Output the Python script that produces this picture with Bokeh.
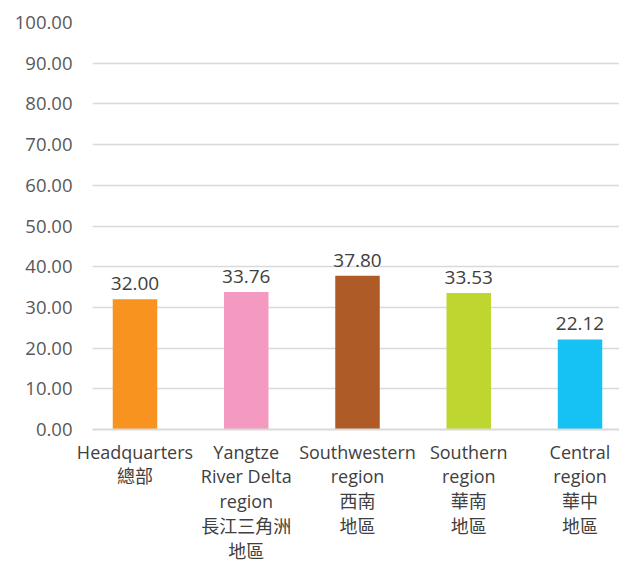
from bokeh.plotting import figure
from bokeh.models import Range1d, FixedTicker, NumeralTickFormatter, ColumnDataSource
from bokeh.core.properties import value
from bokeh.embed import file_html
from bokeh.resources import INLINE

categories = ["Headquarters\n總部",
              "Yangtze\nRiver Delta\nregion\n長江三角洲\n地區",
              "Southwestern\nregion\n西南\n地區",
              "Southern\nregion\n華南\n地區",
              "Central\nregion\n華中\n地區"]
values = [32.00, 33.76, 37.80, 33.53, 22.12]
colors = ["#F7931E", "#F49AC1", "#AE5B27", "#BFD630", "#16C1F3"]
y_ticks = [0, 10, 20, 30, 40, 50, 60, 70, 80, 90, 100]

FONT = "'Open Sans', 'Noto Sans CJK TC'"

idx = list(range(len(categories)))
src = ColumnDataSource(dict(x=idx, top=values, color=colors,
                            label=["%.2f" % v for v in values]))

p = figure(width=619, height=566, output_backend="svg", toolbar_location=None,
           x_range=Range1d(-0.382, 4.355), y_range=Range1d(0, 100),
           min_border_left=92, min_border_right=0, min_border_top=22,
           min_border_bottom=137)
p.outline_line_color = None
p.background_fill_color = "white"
p.border_fill_color = "white"

p.vbar(x="x", top="top", width=0.40, color="color", source=src, line_color=None)
p.text(x="x", y="top", text="label", source=src, text_align="center",
       text_baseline="bottom", y_offset=-9, text_font=value(FONT),
       text_font_size="19px", text_color="#404040")

p.xgrid.grid_line_color = None
p.ygrid.grid_line_color = "#d9d9d9"
p.ygrid.grid_line_width = 1.5
p.ygrid.ticker = FixedTicker(ticks=y_ticks)

ya = p.yaxis[0]
ya.ticker = FixedTicker(ticks=y_ticks)
ya.formatter = NumeralTickFormatter(format="0.00")
ya.axis_line_color = None
ya.major_tick_line_color = None
ya.minor_tick_line_color = None
ya.major_label_standoff = 14
ya.major_label_text_font = FONT
ya.major_label_text_font_size = "18.5px"
ya.major_label_text_color = "#595959"

xa = p.xaxis[0]
xa.ticker = FixedTicker(ticks=idx)
xa.major_label_overrides = {i: c for i, c in zip(idx, categories)}
xa.axis_line_color = "#d9d9d9"
xa.axis_line_width = 2
xa.major_tick_line_color = None
xa.minor_tick_line_color = None
xa.major_label_standoff = 4
xa.major_label_text_font = FONT
xa.major_label_text_font_size = "18px"
xa.major_label_text_color = "#404040"
xa.major_label_text_line_height = 1.04

open("out.html", "w").write(file_html(p, INLINE))
